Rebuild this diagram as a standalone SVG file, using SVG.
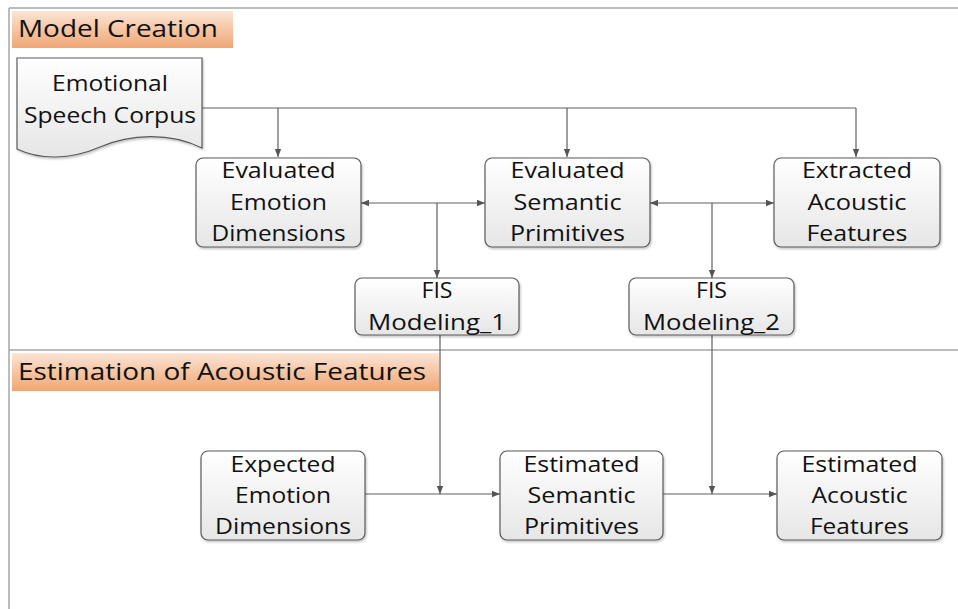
<svg xmlns="http://www.w3.org/2000/svg" width="958" height="609" viewBox="0 0 958 609">
<style>
  .frame{fill:none;stroke:#a6a6a6;stroke-width:1.5}
  .box{fill:url(#boxg);stroke:#5a5a5a;stroke-width:1.2;filter:url(#sh)}
  .hdr{fill:url(#hdrg)}
  .t{font-family:"Open Sans","Liberation Sans",sans-serif;font-size:22px;fill:#111;text-anchor:middle}
  .h{font-family:"Open Sans","Liberation Sans",sans-serif;font-size:23px;fill:#111}
  .c{fill:none;stroke:#5f5f5f;stroke-width:1.2}
</style>
<defs>
  <linearGradient id="boxg" x1="0" y1="0" x2="0" y2="1">
    <stop offset="0" stop-color="#ffffff"/>
    <stop offset="1" stop-color="#e6e6e6"/>
  </linearGradient>
  <linearGradient id="hdrg" x1="0" y1="0" x2="0" y2="1">
    <stop offset="0" stop-color="#fbe5d5"/>
    <stop offset="1" stop-color="#f0a673"/>
  </linearGradient>
  <filter id="sh" x="-5%" y="-5%" width="115%" height="120%">
    <feDropShadow dx="1" dy="1.5" stdDeviation="1" flood-color="#000" flood-opacity="0.25"/>
  </filter>
  <marker id="ah" viewBox="0 0 8 8" refX="8" refY="4" markerWidth="8" markerHeight="8" markerUnits="userSpaceOnUse" orient="auto-start-reverse">
    <path d="M0,0.8 L8,4 L0,7.2 Z" fill="#555"/>
  </marker>
</defs>

<g id="frame">
  <line class="frame" x1="9" y1="8" x2="958" y2="8"/>
  <line class="frame" x1="9" y1="8" x2="9" y2="609"/>
  <line class="frame" x1="9" y1="350" x2="958" y2="350"/>
</g>

<g id="hdr-model">
  <rect class="hdr" x="12" y="11" width="221" height="37"/>
  <text class="h" x="18" y="37" textLength="200" lengthAdjust="spacingAndGlyphs">Model Creation</text>
</g>
<g id="hdr-estimation">
  <rect class="hdr" x="12" y="353" width="427" height="38"/>
  <text class="h" x="18" y="380" textLength="408" lengthAdjust="spacingAndGlyphs">Estimation of Acoustic Features</text>
</g>

<g id="connectors">
  <polyline class="c" points="202,108 856,108"/>
  <line class="c" x1="278" y1="108" x2="278" y2="157" marker-end="url(#ah)"/>
  <line class="c" x1="567" y1="108" x2="567" y2="157" marker-end="url(#ah)"/>
  <line class="c" x1="856" y1="108" x2="856" y2="157" marker-end="url(#ah)"/>
  <line class="c" x1="361" y1="203" x2="485" y2="203" marker-start="url(#ah)" marker-end="url(#ah)"/>
  <line class="c" x1="437" y1="203" x2="437" y2="278" marker-end="url(#ah)"/>
  <line class="c" x1="650" y1="203" x2="774" y2="203" marker-start="url(#ah)" marker-end="url(#ah)"/>
  <line class="c" x1="712" y1="203" x2="712" y2="278" marker-end="url(#ah)"/>
  <line class="c" x1="440" y1="335" x2="440" y2="494" marker-end="url(#ah)"/>
  <line class="c" x1="712" y1="335" x2="712" y2="494" marker-end="url(#ah)"/>
  <line class="c" x1="365" y1="494" x2="500" y2="494" marker-end="url(#ah)"/>
  <line class="c" x1="663" y1="494" x2="777" y2="494" marker-end="url(#ah)"/>
</g>

<g id="corpus">
  <path class="box" d="M17,58 H202 V148 C170,132 130,134 100,147 C70,160 40,160 17,149 Z"/>
  <text class="t" x="110" y="91" textLength="116" lengthAdjust="spacingAndGlyphs">Emotional</text>
  <text class="t" x="110" y="123" textLength="172" lengthAdjust="spacingAndGlyphs">Speech Corpus</text>
</g>

<g id="eval-emotion">
  <rect class="box" x="196" y="158" width="165" height="89" rx="7"/>
  <text class="t" x="278.5" y="178" textLength="114" lengthAdjust="spacingAndGlyphs">Evaluated</text>
  <text class="t" x="278.5" y="210" textLength="97" lengthAdjust="spacingAndGlyphs">Emotion</text>
  <text class="t" x="278.5" y="241" textLength="134" lengthAdjust="spacingAndGlyphs">Dimensions</text>
</g>
<g id="eval-semantic">
  <rect class="box" x="485" y="158" width="165" height="89" rx="7"/>
  <text class="t" x="567.5" y="178" textLength="114" lengthAdjust="spacingAndGlyphs">Evaluated</text>
  <text class="t" x="567.5" y="210" textLength="108" lengthAdjust="spacingAndGlyphs">Semantic</text>
  <text class="t" x="567.5" y="241" textLength="115" lengthAdjust="spacingAndGlyphs">Primitives</text>
</g>
<g id="extracted-acoustic">
  <rect class="box" x="774" y="158" width="166" height="89" rx="7"/>
  <text class="t" x="857" y="178" textLength="110" lengthAdjust="spacingAndGlyphs">Extracted</text>
  <text class="t" x="857" y="210" textLength="99" lengthAdjust="spacingAndGlyphs">Acoustic</text>
  <text class="t" x="857" y="241" textLength="101" lengthAdjust="spacingAndGlyphs">Features</text>
</g>
<g id="fis1">
  <rect class="box" x="355" y="278" width="164" height="57" rx="7"/>
  <text class="t" x="437" y="298" textLength="31" lengthAdjust="spacingAndGlyphs">FIS</text>
  <text class="t" x="437" y="330" textLength="138" lengthAdjust="spacingAndGlyphs">Modeling_1</text>
</g>
<g id="fis2">
  <rect class="box" x="629" y="278" width="165" height="57" rx="7"/>
  <text class="t" x="711.5" y="298" textLength="31" lengthAdjust="spacingAndGlyphs">FIS</text>
  <text class="t" x="711.5" y="330" textLength="137" lengthAdjust="spacingAndGlyphs">Modeling_2</text>
</g>
<g id="expected-emotion">
  <rect class="box" x="201" y="451" width="164" height="89" rx="7"/>
  <text class="t" x="283" y="472" textLength="105" lengthAdjust="spacingAndGlyphs">Expected</text>
  <text class="t" x="283" y="503" textLength="96" lengthAdjust="spacingAndGlyphs">Emotion</text>
  <text class="t" x="283" y="534" textLength="136" lengthAdjust="spacingAndGlyphs">Dimensions</text>
</g>
<g id="est-semantic">
  <rect class="box" x="500" y="451" width="163" height="89" rx="7"/>
  <text class="t" x="581.5" y="472" textLength="116" lengthAdjust="spacingAndGlyphs">Estimated</text>
  <text class="t" x="581.5" y="503" textLength="108" lengthAdjust="spacingAndGlyphs">Semantic</text>
  <text class="t" x="581.5" y="534" textLength="115" lengthAdjust="spacingAndGlyphs">Primitives</text>
</g>
<g id="est-acoustic">
  <rect class="box" x="777" y="451" width="165" height="89" rx="7"/>
  <text class="t" x="859.5" y="472" textLength="116" lengthAdjust="spacingAndGlyphs">Estimated</text>
  <text class="t" x="859.5" y="503" textLength="96" lengthAdjust="spacingAndGlyphs">Acoustic</text>
  <text class="t" x="859.5" y="534" textLength="99" lengthAdjust="spacingAndGlyphs">Features</text>
</g>
</svg>
